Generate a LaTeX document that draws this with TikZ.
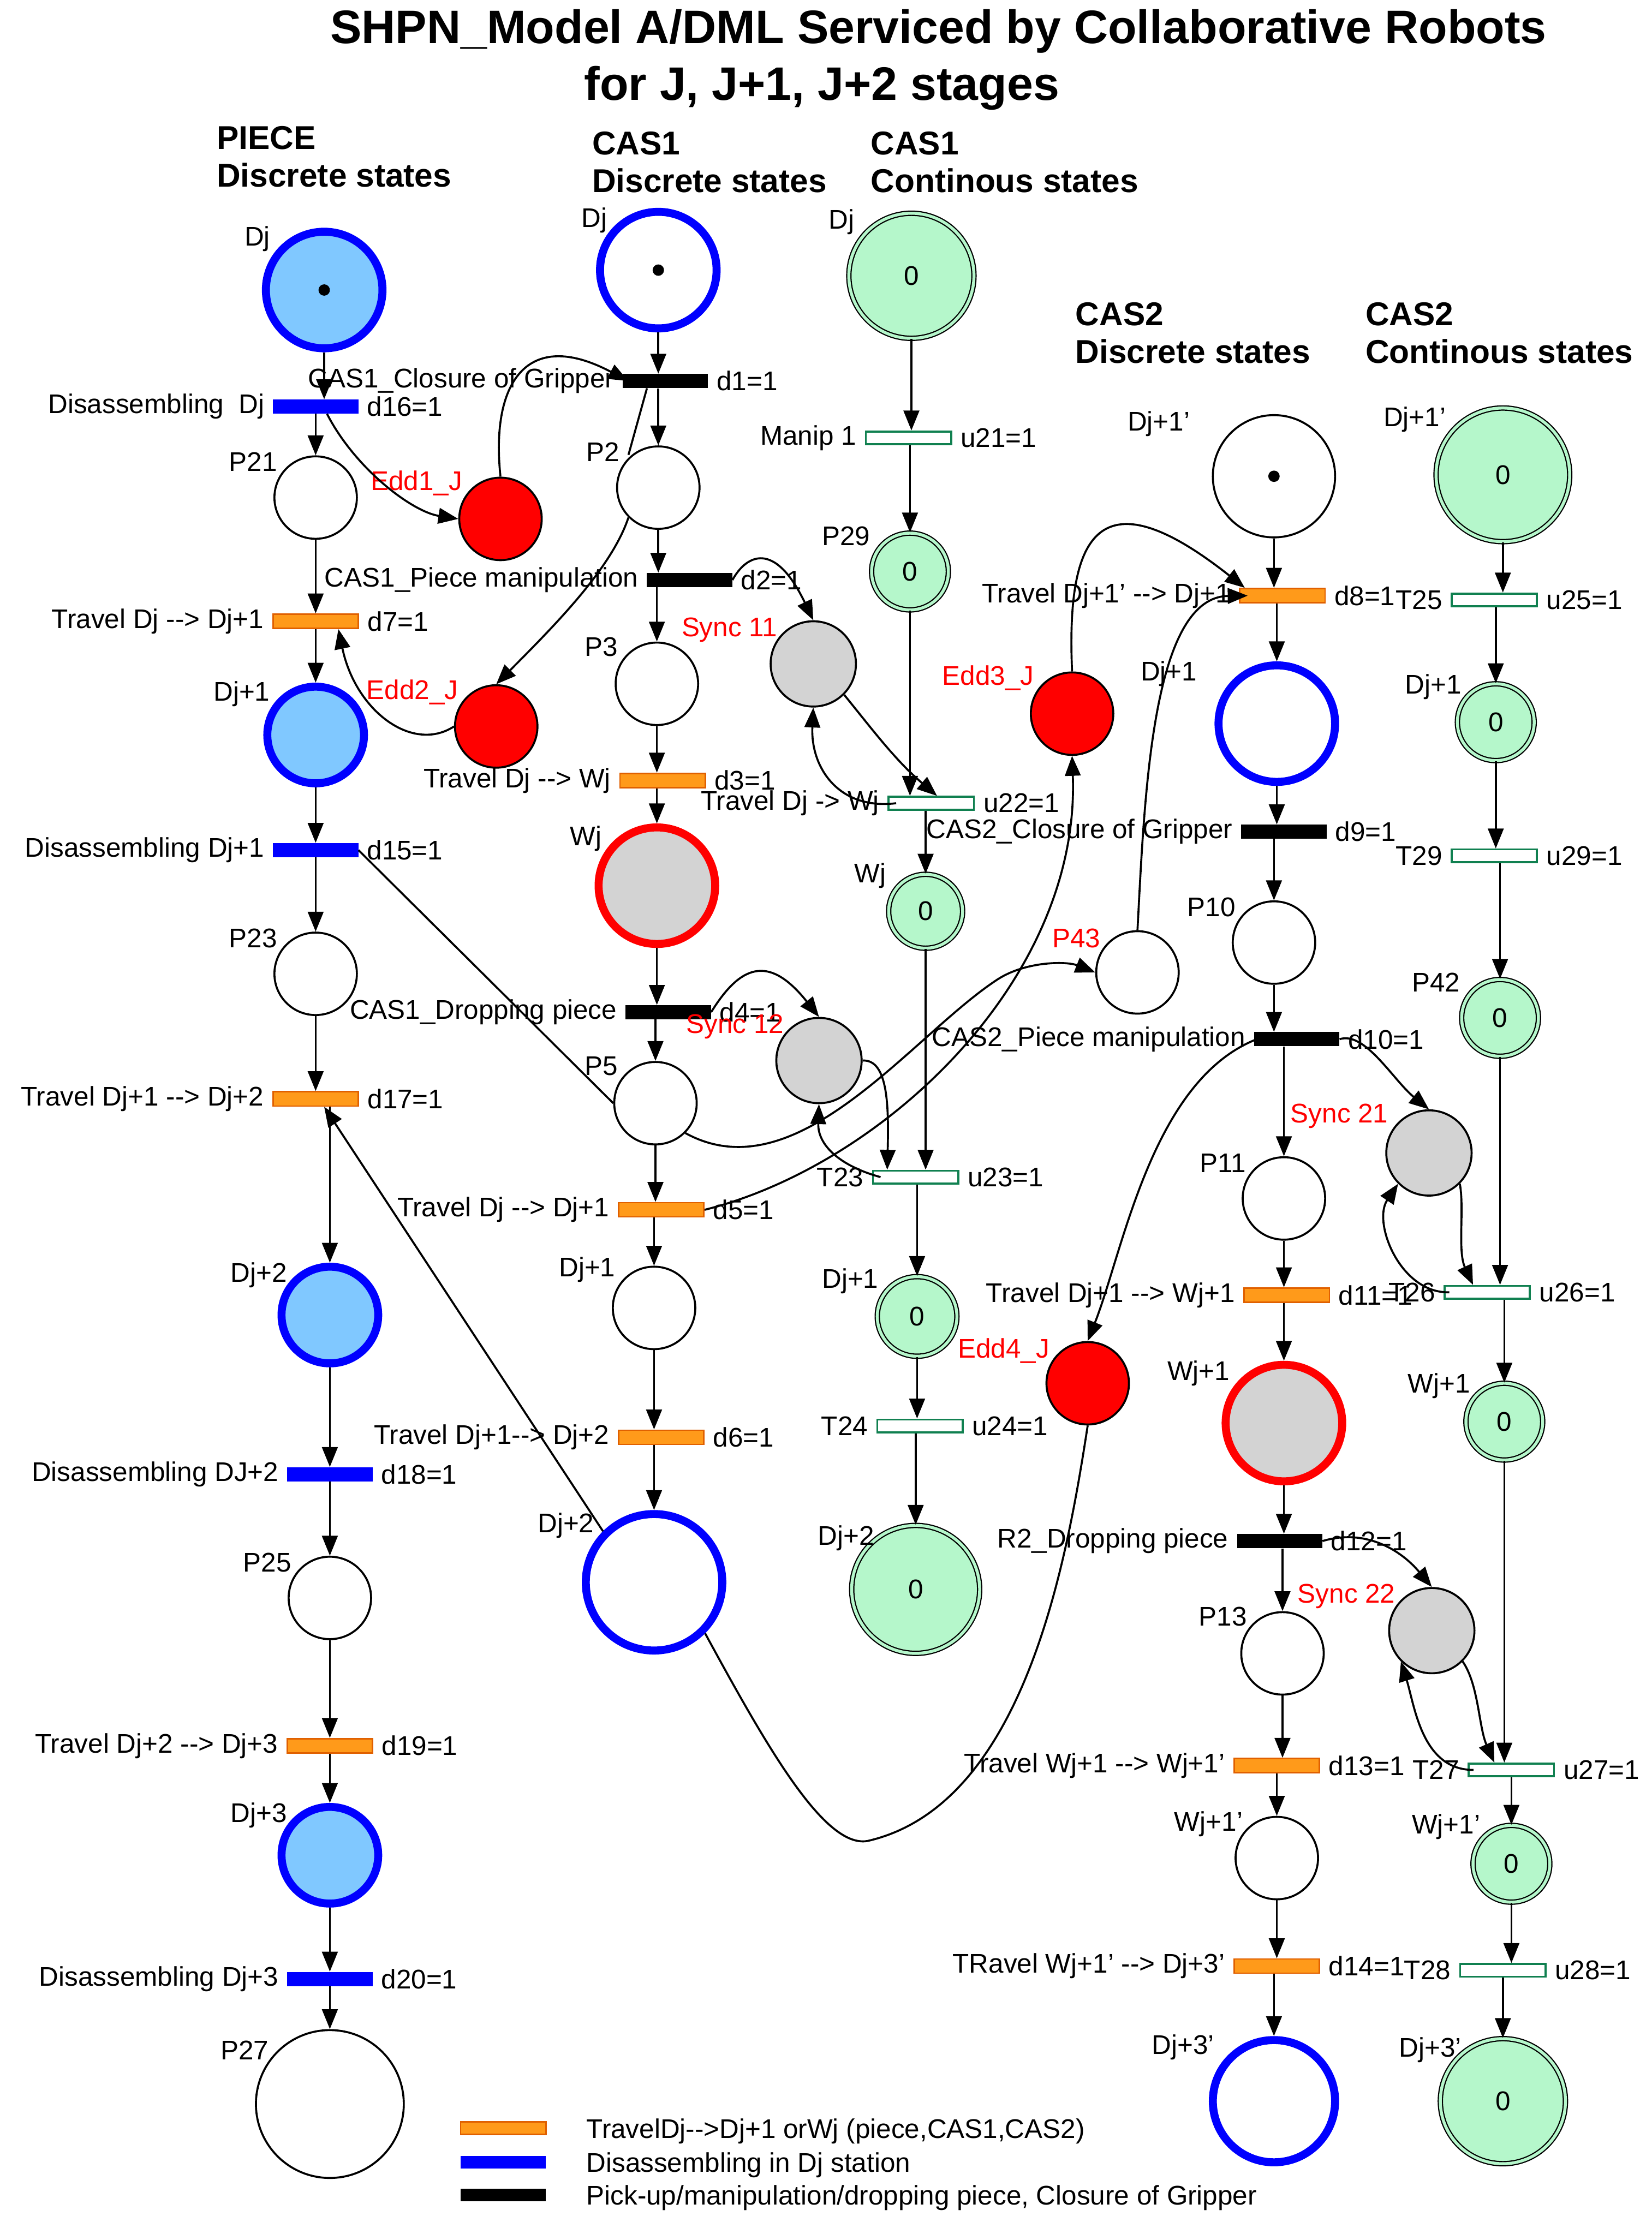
\documentclass[tikz,border=0pt]{standalone}
\usepackage{fontspec}
\setmainfont{Liberation Sans}
\usetikzlibrary{arrows.meta}
\definecolor{lb}{HTML}{80C8FF}
\definecolor{gf}{HTML}{B5F7CB}
\definecolor{gr}{HTML}{D3D3D3}
\definecolor{or1}{HTML}{FF9A1A}
\definecolor{or2}{HTML}{E06000}
\definecolor{trg}{HTML}{108050}
\newcommand\fsz{\fontsize{27}{31}\selectfont}
\newcommand\ar{-{}->}
\newcommand\TR[6]{\node[#4,label={[anchor=east,xshift=-5pt,font=\fsz]west:{#5}},label={[anchor=west,xshift=5pt,font=\fsz]east:{#6}}] (#1) at (#2,#3) {};}
\begin{document}
\begin{tikzpicture}[x=0.05cm,y=-0.05cm,
 every node/.style={font=\fsz},
 pl/.style={circle,draw,line width=2pt,inner sep=0,fill=white},
 bp/.style={pl,draw=blue,line width=8pt},
 rp/.style={pl,draw=red,line width=8pt,fill=gr},
 ed/.style={pl,fill=red},
 sy/.style={pl,fill=gr},
 gp/.style={circle,draw=black,line width=1.2pt,double=gf,double distance=3pt,fill=gf,inner sep=0},
 tr/.style={rectangle,minimum width=3cm,minimum height=0.5cm,inner sep=0},
 otr/.style={tr,fill=or1,draw=or2,line width=1.5pt},
 btr/.style={tr,fill=blue},
 ktr/.style={tr,fill=black},
 gtr/.style={tr,minimum height=0.45cm,draw=trg,line width=2pt,fill=white},
 a/.style={line width=2pt,-{Triangle[length=0.7cm,width=0.55cm]}},
 rl/.style={text=red},
 hd/.style={font=\fontsize{33}{38}\selectfont\bfseries,anchor=west},
 tk/.style={circle,fill=black,inner sep=0,minimum size=0.4cm}]
\useasboundingbox (0,0) rectangle (1161.5,1563);
% titles
\node[font=\fontsize{47}{54}\selectfont\bfseries] (t1) at (660,22) {SHPN\_Model A/DML Serviced by Collaborative Robots};
\node[font=\fontsize{47}{54}\selectfont\bfseries] (t2) at (578,62) {for J, J+1, J+2 stages};
\node[hd] (h1) at (150,97) {PIECE};
\node[hd] (h2) at (150,123) {Discrete states};
\node[hd] (h3) at (414,101) {CAS1};
\node[hd] (h4) at (414,127) {Discrete states};
\node[hd] (h5) at (610,101) {CAS1};
\node[hd] (h6) at (610,127) {Continous states};
\node[hd] (h7) at (754,221) {CAS2};
\node[hd] (h8) at (754,247) {Discrete states};
\node[hd] (h9) at (958,221) {CAS2};
\node[hd] (h10) at (958,247) {Continous states};
% ---------- PIECE column
\node[bp,fill=lb,minimum size=8.2cm/2] (pDj) at (228,204) {}; \node[tk] (k1) at (pDj) {};
\node (lpDj) at (181,168) {Dj};
\TR{d16}{222}{286}{btr}{Disassembling\ \ Dj}{d16=1}
\node[pl,minimum size=2.9cm] (P21) at (222,350) {}; \node (lP21) at (178,325) {P21};
\TR{d7}{222}{437}{otr}{Travel Dj \ar\ Dj+1}{d7=1}
\node[bp,fill=lb,minimum size=3.4cm] (pDj1) at (222,517) {}; \node (lpDj1) at (170,488) {Dj+1};
\TR{d15}{222}{598}{btr}{Disassembling Dj+1}{d15=1}
\node[pl,minimum size=2.9cm] (P23) at (222,685) {}; \node (lP23) at (178,660) {P23};
\TR{d17}{222}{773}{otr}{Travel Dj+1 \ar\ Dj+2}{d17=1}
\node[bp,fill=lb,minimum size=3.4cm] (pDj2) at (232,925) {}; \node (lpDj2) at (182,897) {Dj+2};
\TR{d18}{232}{1037}{btr}{Disassembling DJ+2}{d18=1}
\node[pl,minimum size=2.9cm] (P25) at (232,1124) {}; \node (lP25) at (188,1099) {P25};
\TR{d19}{232}{1228}{otr}{Travel Dj+2 \ar\ Dj+3}{d19=1}
\node[bp,fill=lb,minimum size=3.4cm] (pDj3) at (232,1305) {}; \node (lpDj3) at (182,1277) {Dj+3};
\TR{d20}{232}{1392}{btr}{Disassembling Dj+3}{d20=1}
\node[pl,minimum size=5.2cm] (P27) at (232,1480) {}; \node (lP27) at (172,1442) {P27};
\draw[a] (pDj) -- (pDj|-d16.north);
\draw[a] (d16) -- (P21);
\draw[a] (P21) -- (d7);
\draw[a] (d7) -- (pDj1);
\draw[a] (pDj1) -- (d15);
\draw[a] (d15) -- (P23);
\draw[a] (P23) -- (d17);
\draw[a] (d17.south-|pDj2) -- (pDj2);
\draw[a] (pDj2) -- (d18);
\draw[a] (d18) -- (P25);
\draw[a] (P25) -- (d19);
\draw[a] (d19) -- (pDj3);
\draw[a] (pDj3) -- (d20);
\draw[a] (d20) -- (P27);
% ---------- CAS1 discrete
\node[bp,minimum size=4.1cm] (cDj) at (463,190) {}; \node[tk] (k2) at (cDj) {};
\node (lcDj) at (418,155) {Dj};
\TR{d1}{468}{268}{ktr}{CAS1\_Closure of Gripper}{d1=1}
\node[pl,minimum size=2.9cm] (P2) at (463,343) {}; \node (lP2) at (424,318) {P2};
\TR{d2}{485}{408}{ktr}{CAS1\_Piece manipulation}{d2=1}
\node[pl,minimum size=2.9cm] (P3) at (462,481) {}; \node (lP3) at (423,455) {P3};
\TR{d3}{466}{549}{otr}{Travel Dj \ar\ Wj}{d3=1}
\node[rp,minimum size=4.1cm] (cWj) at (462,623) {}; \node (lcWj) at (412,590) {Wj};
\TR{d4}{470}{712}{ktr}{CAS1\_Dropping piece}{d4=1}
\node[pl,minimum size=2.9cm] (P5) at (461,776) {}; \node (lP5) at (423,750) {P5};
\TR{d5}{465}{851}{otr}{Travel Dj \ar\ Dj+1}{d5=1}
\node[pl,minimum size=2.9cm] (cDj1) at (460,920) {}; \node (lcDj1) at (413,893) {Dj+1};
\TR{d6}{465}{1011}{otr}{Travel Dj+1\ar\ Dj+2}{d6=1}
\node[bp,minimum size=4.8cm] (cDj2) at (460,1113) {}; \node (lcDj2) at (398,1073) {Dj+2};
\draw[a] (cDj) -- (cDj|-d1.north);
\draw[a] (d1.south-|cDj) -- (P2);
\draw[line width=2pt] (P2.north west) ++(0,-2) -- ([xshift=-0.4cm]d1.south-|cDj);
\draw[a] (P2) -- (P2|-d2.north);
\draw[a] (d2.south-|P3) -- (P3);
\draw[a] (P3) -- (P3|-d3.north);
\draw[a] (d3.south-|cWj) -- (cWj);
\draw[a] (cWj) -- (cWj|-d4.north);
\draw[a] (d4.south-|P5) -- (P5);
\draw[a] (P5) -- (P5|-d5.north);
\draw[a] (d5.south-|cDj1) -- (cDj1);
\draw[a] (cDj1) -- (cDj1|-d6.north);
\draw[a] (d6.south-|cDj2) -- (cDj2);
\node[ed,minimum size=2.9cm] (E1) at (352,365) {}; \node[rl] (lE1) at (293,340) {Edd1\_J};
\node[ed,minimum size=2.9cm] (E2) at (349,511) {}; \node[rl] (lE2) at (290,487) {Edd2\_J};
\node[sy,minimum size=3cm] (S11) at (572,467) {}; \node[rl] (lS11) at (513,443) {Sync 11};
\node[sy,minimum size=3cm] (S12) at (576,746) {}; \node[rl] (lS12) at (517,722) {Sync 12};
% ---------- CAS1 continuous
\node[gp,minimum size=4.4cm] (gDj) at (641,194) {0}; \node (lgDj) at (592,156) {Dj};
\TR{u21}{639}{308}{gtr}{Manip 1}{u21=1}
\node[gp,minimum size=2.7cm] (P29) at (640,402) {0}; \node (lP29) at (595,377) {P29};
\TR{u22}{655}{565}{gtr}{Travel Dj -> Wj}{u22=1}
\node[gp,minimum size=2.6cm] (gWj) at (651,641) {0}; \node (lgWj) at (612,616) {Wj};
\TR{T23}{644}{828}{gtr}{T23}{u23=1}
\node[gp,minimum size=2.8cm] (gDj1) at (645,926) {0}; \node (lgDj1) at (598,901) {Dj+1};
\TR{T24}{647}{1003}{gtr}{T24}{u24=1}
\node[gp,minimum size=4.5cm] (gDj2) at (644,1118) {0}; \node (lgDj2) at (595,1082) {Dj+2};
\draw[a] (gDj) -- (gDj|-u21.north);
\draw[a] (u21.south-|P29) -- (P29);
\draw[a] (P29) -- (P29|-u22.north);
\draw[a] (u22.south-|gWj) -- (gWj);
\draw[a] (gWj) -- (gWj|-T23.north);
\draw[a] (T23.south-|gDj1) -- (gDj1);
\draw[a] (gDj1) -- (gDj1|-T24.north);
\draw[a] (T24.south-|gDj2) -- (gDj2);
% ---------- CAS2 discrete
\node[pl,minimum size=4.3cm] (eDj) at (896,335) {}; \node[tk] (k3) at (eDj) {};
\node (leDj) at (815,298) {Dj+1'};
\TR{d8}{902}{419}{otr}{Travel Dj+1' \ar\ Dj+1}{d8=1}
\node[bp,minimum size=4.1cm] (eDj1) at (898,509) {}; \node (leDj1) at (822,474) {Dj+1};
\TR{d9}{903}{585}{ktr}{CAS2\_Closure of Gripper}{d9=1}
\node[pl,minimum size=2.9cm] (P10) at (896,663) {}; \node (lP10) at (852,638) {P10};
\TR{d10}{912}{731}{ktr}{CAS2\_Piece manipulation}{d10=1}
\node[pl,minimum size=2.9cm] (P11) at (903,843) {}; \node (lP11) at (860,818) {P11};
\TR{d11}{905}{911}{otr}{Travel Dj+1 \ar\ Wj+1}{d11=1}
\node[rp,minimum size=4.1cm] (eWj1) at (903,1001) {}; \node (leWj1) at (843,966) {Wj+1};
\TR{d12}{900}{1084}{ktr}{R2\_Dropping piece}{d12=1}
\node[pl,minimum size=2.9cm] (P13) at (902,1163) {}; \node (lP13) at (860,1137) {P13};
\TR{d13}{898}{1242}{otr}{Travel Wj+1 \ar\ Wj+1'}{d13=1}
\node[pl,minimum size=2.9cm] (eWj2) at (898,1307) {}; \node (leWj2) at (850,1283) {Wj+1'};
\TR{d14}{898}{1383}{otr}{TRavel Wj+1' \ar\ Dj+3'}{d14=1}
\node[bp,minimum size=4.3cm] (eDj3) at (896,1478) {}; \node (leDj3) at (832,1440) {Dj+3'};
\draw[a] (eDj) -- (eDj|-d8.north);
\draw[a] (d8.south-|eDj1) -- (eDj1);
\draw[a] (eDj1) -- (eDj1|-d9.north);
\draw[a] (d9.south-|P10) -- (P10);
\draw[a] (P10) -- (P10|-d10.north);
\draw[a] (d10.south-|P11) -- (P11);
\draw[a] (P11) -- (P11|-d11.north);
\draw[a] (d11.south-|eWj1) -- (eWj1);
\draw[a] (eWj1) -- (eWj1|-d12.north);
\draw[a] (d12.south-|P13) -- (P13);
\draw[a] (P13) -- (P13|-d13.north);
\draw[a] (d13.south-|eWj2) -- (eWj2);
\draw[a] (eWj2) -- (eWj2|-d14.north);
\draw[a] (d14.south-|eDj3) -- (eDj3);
\node[pl,minimum size=2.9cm] (P43) at (800,684) {}; \node[rl] (lP43) at (757,660) {P43};
\node[ed,minimum size=2.9cm] (E3) at (754,502) {}; \node[rl] (lE3) at (695,477) {Edd3\_J};
\node[ed,minimum size=2.9cm] (E4) at (765,973) {}; \node[rl] (lE4) at (706,950) {Edd4\_J};
\node[sy,minimum size=3cm] (S21) at (1005,811) {}; \node[rl] (lS21) at (942,785) {Sync 21};
\node[sy,minimum size=3cm] (S22) at (1007,1147) {}; \node[rl] (lS22) at (947,1123) {Sync 22};
% ---------- CAS2 continuous
\node[gp,minimum size=4.7cm] (hDj) at (1057,334) {0}; \node (lhDj) at (995,295) {Dj+1'};
\TR{T25}{1051}{422}{gtr}{T25}{u25=1}
\node[gp,minimum size=2.7cm] (hDj1) at (1052,508) {0}; \node (lhDj1) at (1008,483) {Dj+1};
\TR{T29}{1051}{602}{gtr}{T29}{u29=1}
\node[gp,minimum size=2.7cm] (P42) at (1055,716) {0}; \node (lP42) at (1010,691) {P42};
\TR{T26}{1046}{909}{gtr}{T26}{u26=1}
\node[gp,minimum size=2.7cm] (hWj1) at (1058,1000) {0}; \node (lhWj1) at (1012,975) {Wj+1};
\TR{T27}{1063}{1245}{gtr}{T27}{u27=1}
\node[gp,minimum size=2.7cm] (hWj2) at (1063,1311) {0}; \node (lhWj2) at (1017,1285) {Wj+1'};
\TR{T28}{1057}{1386}{gtr}{T28}{u28=1}
\node[gp,minimum size=4.4cm] (hDj3) at (1057,1478) {0}; \node (lhDj3) at (1006,1442) {Dj+3'};
\draw[a] (hDj) -- (hDj|-T25.north);
\draw[a] (T25.south-|hDj1) -- (hDj1);
\draw[a] (hDj1) -- (hDj1|-T29.north);
\draw[a] (T29.south-|P42) -- (P42);
\draw[a] (P42) -- (P42|-T26.north);
\draw[a] (T26.south-|hWj1) -- (hWj1);
\draw[a] (hWj1) -- (hWj1|-T27.north);
\draw[a] (T27.south-|hWj2) -- (hWj2);
\draw[a] (hWj2) -- (hWj2|-T28.north);
\draw[a] (T28.south-|hDj3) -- (hDj3);
% ---------- extra arcs
\draw[a] ([xshift=0.4cm]d16.south) .. controls (250,330) and (290,360) .. (E1.west);
\draw[a] (E1.north) .. controls (345,270) and (370,230) .. ([xshift=0.2cm]d1.west);
\draw[a] (P2.south west) .. controls (430,400) and (390,440) .. (E2.north);
\draw[a] (E2.west) .. controls (290,530) and (250,500) .. ([xshift=0.8cm]d7.south);
\draw[a] (d2.east) .. controls (525,390) and (545,380) .. (S11.north);
\draw[a] (S11.south east) .. controls (615,515) and (630,535) .. ([xshift=0.2cm]u22.north);
\draw[a] ([xshift=0.3cm]u22.west) .. controls (590,570) and (570,540) .. (S11.south);
\draw[a] (d4.east) .. controls (520,680) and (540,670) .. (S12.north);
\draw[a] (S12.east) .. controls (625,745) and (625,780) .. ([xshift=-1cm]T23.north);
\draw[a] ([xshift=0.3cm]T23.west) .. controls (590,820) and (575,805) .. (S12.south);
\draw[line width=2pt] (d15.east) -- (P5.west);
\draw[a] (P5.south east) .. controls (560,840) and (640,730) .. (700,690) .. controls (720,676) and (750,676) .. (P43.west);
\draw[a] (P43.north) .. controls (805,560) and (810,420) .. ([xshift=0.3cm]d8.west);
\draw[a] (E3.north) .. controls (750,380) and (770,330) .. ([xshift=0.2cm]d8.north west);
\draw[a] (d5.east) .. controls (620,820) and (760,690) .. (E3.south);
\draw[a] (cDj2.north west) -- ([xshift=0.3cm]d17.south);
\draw[a] ([xshift=0.1cm]d10.west) .. controls (810,760) and (790,880) .. (E4.north);
\draw[line width=2pt] (cDj2.south east) .. controls (540,1230) and (580,1300) .. (610,1295) .. controls (720,1270) and (750,1100) .. (E4.south);
\draw[a] (d10.east) .. controls (960,725) and (980,760) .. (S21.north);
\draw[a] (S21.south east) .. controls (1030,850) and (1025,880) .. ([xshift=-0.5cm]T26.north);
\draw[a] ([xshift=0.2cm]T26.west) .. controls (985,910) and (965,860) .. (S21.south west);
\draw[a] (d12.east) .. controls (960,1075) and (985,1090) .. (S22.north);
\draw[a] (S22.south east) .. controls (1040,1185) and (1040,1215) .. ([xshift=-0.6cm]T27.north);
\draw[a] ([xshift=0.2cm]T27.west) .. controls (1000,1245) and (995,1200) .. (S22.south west);
% ---------- legend
\node[tr,fill=or1,draw=or2,line width=1.5pt,minimum height=0.45cm] (L1) at (354,1497) {};
\node[tr,fill=blue,minimum height=0.45cm] (L2) at (354,1521) {};
\node[tr,fill=black,minimum height=0.45cm] (L3) at (354,1544) {};
\node[anchor=west] (T1) at (410,1499) {TravelDj\ar Dj+1 orWj (piece,CAS1,CAS2)};
\node[anchor=west] (T2) at (410,1523) {Disassembling in Dj station};
\node[anchor=west] (T3) at (410,1546) {Pick-up/manipulation/dropping piece, Closure of Gripper};
\end{tikzpicture}
\end{document}
